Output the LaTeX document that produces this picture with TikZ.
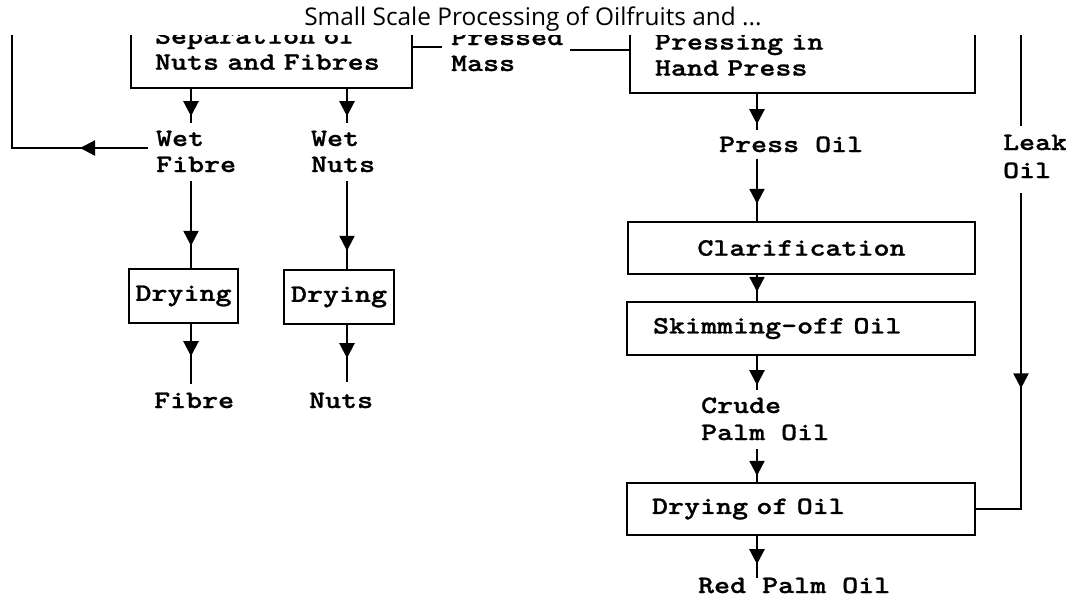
\documentclass[tikz,border=0pt]{standalone}
\usepackage{fontspec}
\usetikzlibrary{arrows.meta,decorations.markings,calc}
\newfontfamily\typew{lmmonolt10-bold.otf}[FakeStretch=1.22,FakeBold=1]
\newfontfamily\titlefont{Open Sans}
\begin{document}
\begin{tikzpicture}[x=1pt,y=-1pt,
  line width=2.2pt,
  lbl/.style={font=\typew\fontsize{25}{26}\selectfont, inner sep=0pt, align=left, anchor=base west},
  box/.style={draw, line width=2.4pt, font=\typew\fontsize{25}{26}\selectfont, inner sep=0pt},
  arr/.style={postaction={decorate},decoration={markings,mark=at position #1 with {\arrow{Triangle[width=15pt,length=15pt]}}}}
]
\useasboundingbox (0,0) rectangle (1066,598);
\node[font=\titlefont\fontsize{24.4}{28}\selectfont, anchor=base, inner sep=0pt] (title) at (533,25) {Small Scale Processing of Oilfruits and ...};

\begin{scope}
\clip (0,35) rectangle (1066,598);
% columns and free ends
\coordinate (cF) at (191,0);
\coordinate (cN) at (347,0);
\coordinate (cP) at (757,0);
\coordinate (cL) at (1021,0);
\coordinate (lc) at (12,148);
\coordinate (ftop) at (12,20);
\coordinate (ltop) at (1021,20);

% nodes
\node[box, align=left, text width=233pt, inner xsep=24pt, minimum height=78pt] (sep) at (271.5,49) {Separation of\\Nuts and Fibres};
\node[box, align=left, text width=295pt, inner xsep=25pt, minimum height=76pt] (press) at (802.5,55) {Pressing in\\Hand Press};
\node[lbl] (pm) at (450,71) {Pressed\\Mass};
\node[lbl] (wf) at (155,172) {Wet\\Fibre};
\node[lbl] (wn) at (310,172) {Wet\\Nuts};
\node[box, minimum width=109pt, minimum height=54pt] (dry1) at (183.5,296) {Drying};
\node[box, minimum width=110pt, minimum height=54pt] (dry2) at (339,297) {Drying};
\node[lbl] (fib) at (153,408) {Fibre};
\node[lbl] (nuts) at (308,408) {Nuts};
\node[lbl] (poil) at (718,152) {Press Oil};
\node[lbl, font=\typew\fontsize{25}{28}\selectfont] (leak) at (1002,178) {Leak\\Oil};
\node[box, minimum width=347pt, minimum height=52pt] (clar) at (801.5,248) {Clarification};
\node[box, align=left, text width=296pt, inner xsep=26pt, minimum height=53pt] (skim) at (801,328.5) {Skimming-off Oil};
\node[lbl, font=\typew\fontsize{25}{27}\selectfont] (crude) at (700,440) {Crude\\Palm Oil};
\node[box, align=left, text width=298pt, inner xsep=25pt, minimum height=52pt] (dryoil) at (801,509) {Drying of Oil};
\node[lbl] (red) at (697,593) {Red Palm Oil};

% connectors
\draw[arr=27pt] (sep.south -| cF) -- ($(wf.north -| cF)+(0,-7)$);
\draw[arr=27pt] (sep.south -| cN) -- ($(wn.north -| cN)+(0,-7)$);
\draw[arr=-22pt] ($(wf.south -| cF)+(0,8)$) -- (dry1.north -| cF);
\draw[arr=-18pt] ($(wn.south -| cN)+(0,8)$) -- (dry2.north -| cN);
\draw[arr=32pt] (dry1.south -| cF) -- ($(fib.north -| cF)+(0,-8)$);
\draw[arr=33pt] (dry2.south -| cN) -- ($(nuts.north -| cN)+(0,-10)$);
\draw[arr=68pt] ($(wf.west |- lc)+(-7,0)$) -- (lc) -- (ftop);
\draw ($(sep.east |- pm.base)+(0,-24)$) -- ($(pm.base west)+(-8,-24)$);
\draw ($(pm.base east)+(6,-21)$) -- ($(press.west |- pm.base)+(0,-21)$);
\draw[arr=30pt] (press.south -| cP) -- ($(poil.north -| cP)+(0,-5)$);
\draw[arr=-17pt] ($(poil.south -| cP)+(0,6)$) -- (clar.north -| cP);
\draw[arr=-9pt] (clar.south -| cP) -- (skim.north -| cP);
\draw[arr=29pt] (skim.south -| cP) -- ($(crude.north -| cP)+(0,-6)$);
\draw[arr=-6pt] ($(crude.south -| cP)+(0,8)$) -- (dryoil.north -| cP);
\draw[arr=28pt] (dryoil.south -| cP) -- ($(red.north -| cP)+(0,2)$);
\draw (ltop) -- ($(leak.north -| cL)+(0,-8)$);
\draw[arr=195pt] ($(leak.south -| cL)+(0,14)$) -- (cL |- dryoil.east) -- (dryoil.east);
\end{scope}
\end{tikzpicture}
\end{document}
